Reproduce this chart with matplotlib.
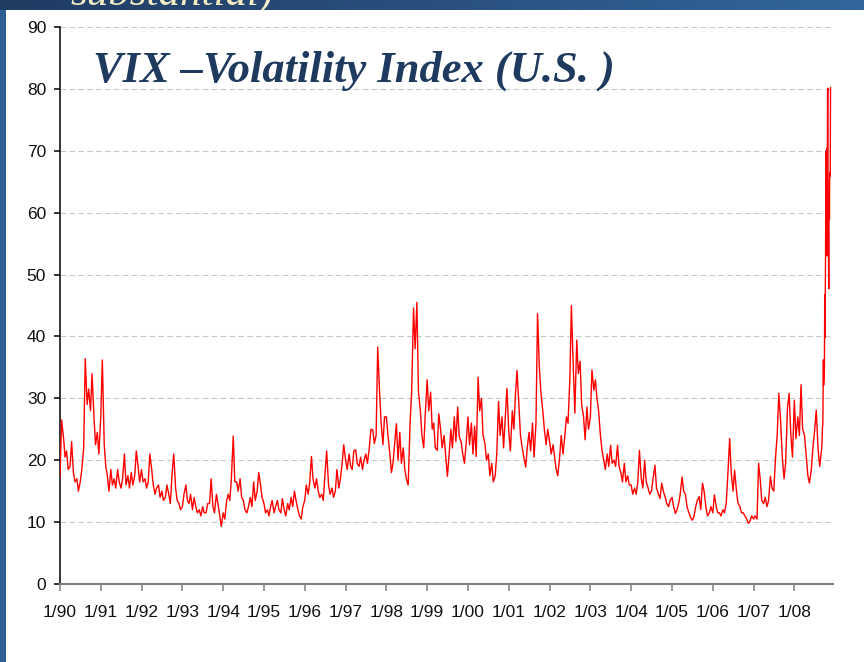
import numpy as np
import pandas as pd
import matplotlib
matplotlib.use('Agg')
import matplotlib.pyplot as plt
from matplotlib.colors import LinearSegmentedColormap
from matplotlib.patches import Rectangle

# VIX, two readings per month (1st / 15th)
vix_1990 = [17.2, 26.5, 23.8, 20.5, 21.5, 18.5, 19.0, 23.0, 18.0, 16.5, 17.0, 15.0,
            16.5, 18.5, 22.0, 36.4, 29.0, 31.5, 28.0, 34.0, 27.0, 22.5, 24.5, 21.0]
vix_1991 = [27.0, 36.2, 22.5, 19.0, 17.5, 15.0, 18.5, 16.0, 17.0, 15.5, 18.5, 16.5,
            15.5, 17.0, 21.0, 16.0, 17.5, 15.5, 18.0, 16.0, 17.5, 21.5, 19.0, 16.5]
vix_1992 = [18.5, 16.5, 17.0, 15.5, 16.5, 21.0, 18.5, 16.0, 14.5, 15.5, 16.0, 14.0,
            15.0, 13.5, 14.0, 16.0, 14.5, 13.0, 18.0, 21.0, 15.5, 13.5, 13.0, 12.0]
vix_1993 = [12.5, 14.5, 16.0, 13.5, 13.0, 14.5, 12.0, 14.0, 12.5, 11.5, 12.0, 11.0,
            12.5, 11.5, 11.5, 13.0, 13.0, 17.0, 12.5, 11.5, 14.5, 13.0, 11.0, 9.3]
vix_1994 = [11.5, 10.5, 13.5, 14.5, 13.5, 17.0, 23.9, 16.5, 16.5, 15.0, 17.0, 14.0,
            13.5, 12.0, 11.5, 12.5, 14.0, 12.5, 16.5, 13.5, 15.0, 18.0, 16.0, 14.0]
vix_1995 = [13.0, 11.5, 12.0, 11.0, 12.5, 13.5, 11.5, 12.5, 13.5, 12.0, 11.5, 13.8,
            12.0, 11.0, 13.0, 12.0, 14.0, 12.5, 15.0, 13.5, 12.0, 11.0, 10.5, 12.5]
vix_1996 = [13.5, 16.0, 14.5, 16.5, 20.6, 17.0, 15.5, 17.0, 15.0, 14.0, 14.5, 13.5,
            18.0, 21.5, 16.0, 14.5, 15.5, 14.0, 15.0, 18.5, 15.5, 17.0, 19.5, 22.5]
vix_1997 = [20.0, 18.5, 21.0, 19.0, 18.5, 21.5, 21.7, 19.5, 19.0, 20.5, 18.5, 20.0,
            21.0, 19.5, 22.0, 25.0, 24.9, 22.7, 24.0, 38.3, 31.0, 26.0, 22.5, 27.0]
vix_1998 = [27.0, 24.0, 21.0, 18.0, 19.5, 22.5, 25.9, 20.0, 24.5, 19.5, 22.0, 18.5,
            16.8, 16.0, 26.0, 31.0, 44.6, 38.0, 45.5, 31.0, 28.0, 24.0, 22.0, 27.5]
vix_1999 = [33.0, 28.0, 31.0, 25.0, 26.0, 22.0, 21.6, 27.5, 25.0, 22.0, 24.0, 21.0,
            17.4, 20.5, 25.0, 22.0, 27.0, 23.0, 28.6, 23.8, 23.0, 21.0, 19.5, 22.5]
vix_2000 = [27.0, 22.5, 26.0, 21.0, 25.5, 20.6, 33.4, 28.0, 30.0, 24.0, 22.7, 20.0,
            21.0, 17.5, 19.5, 16.5, 17.5, 21.0, 29.5, 24.0, 27.0, 22.0, 27.0, 31.6]
vix_2001 = [24.5, 21.5, 28.0, 25.0, 30.5, 34.5, 29.0, 24.0, 22.0, 20.5, 18.9, 22.0,
            24.5, 21.5, 26.0, 20.5, 26.0, 43.7, 35.0, 31.0, 28.0, 25.0, 22.5, 25.0]
vix_2002 = [23.0, 21.0, 22.5, 20.5, 18.5, 17.5, 20.5, 24.0, 21.0, 23.5, 27.0, 26.0,
            33.0, 45.0, 35.0, 27.6, 39.4, 34.0, 36.0, 29.0, 27.0, 23.3, 28.6, 25.0]
vix_2003 = [27.0, 34.6, 31.3, 33.0, 30.0, 28.1, 24.0, 21.6, 20.0, 18.5, 21.0, 19.0,
            22.4, 19.5, 20.0, 19.0, 22.4, 19.0, 18.0, 16.5, 19.5, 16.5, 17.5, 16.0]
vix_2004 = [16.0, 14.5, 15.5, 14.5, 16.5, 21.6, 17.0, 15.5, 20.0, 16.5, 15.5, 14.5,
            15.0, 17.0, 19.2, 15.5, 14.5, 13.8, 16.3, 15.0, 14.0, 13.0, 12.5, 13.5]
vix_2005 = [14.0, 12.5, 11.4, 12.0, 13.0, 14.5, 17.3, 15.0, 14.5, 12.5, 11.5, 10.8,
            10.3, 10.8, 12.5, 13.5, 14.1, 12.0, 16.3, 15.0, 12.3, 11.0, 11.5, 12.5]
vix_2006 = [11.5, 14.4, 12.5, 11.5, 11.5, 11.0, 12.0, 11.5, 13.0, 17.5, 23.5, 18.0,
            15.0, 18.4, 15.0, 13.0, 12.5, 11.5, 11.5, 11.0, 10.5, 9.8, 10.2, 11.0]
vix_2007 = [10.5, 11.0, 10.5, 19.5, 17.0, 13.5, 13.0, 14.0, 12.5, 13.5, 17.4, 15.5,
            15.0, 20.0, 24.3, 30.8, 26.0, 20.5, 17.0, 19.6, 28.6, 30.8, 24.0, 20.5]
vix_2008 = [29.7, 23.5, 27.0, 24.0, 32.2, 25.0, 24.0, 21.0, 17.5, 16.3, 18.5, 22.0,
            24.9, 28.1, 21.6, 19.0]

# autumn 2008 in more detail
crash_dates = ['2008-09-02', '2008-09-05', '2008-09-09', '2008-09-12', '2008-09-15',
               '2008-09-17', '2008-09-19', '2008-09-22', '2008-09-26', '2008-09-29',
               '2008-10-01', '2008-10-03', '2008-10-06', '2008-10-09', '2008-10-10',
               '2008-10-13', '2008-10-15', '2008-10-17', '2008-10-20', '2008-10-22',
               '2008-10-24', '2008-10-27', '2008-10-28', '2008-10-31', '2008-11-04',
               '2008-11-06', '2008-11-10', '2008-11-12', '2008-11-14', '2008-11-17',
               '2008-11-19', '2008-11-20']
crash_vix = [22.0, 23.1, 25.5, 25.7, 31.7, 36.2, 32.1, 33.1, 34.7, 46.7,
             39.8, 45.1, 52.1, 63.9, 70.0, 55.0, 69.3, 70.3, 53.0, 69.7,
             79.1, 80.1, 67.0, 59.9, 47.7, 63.7, 58.9, 66.5, 66.3, 65.9,
             74.3, 80.2]

years = list(range(1990, 2009))
tick_labels = ['1/90', '1/91', '1/92', '1/93', '1/94', '1/95', '1/96', '1/97', '1/98',
               '1/99', '1/00', '1/01', '1/02', '1/03', '1/04', '1/05', '1/06', '1/07',
               '1/08']
y_ticks = [0, 10, 20, 30, 40, 50, 60, 70, 80, 90]

semi = (vix_1990 + vix_1991 + vix_1992 + vix_1993 + vix_1994 + vix_1995 + vix_1996 +
        vix_1997 + vix_1998 + vix_1999 + vix_2000 + vix_2001 + vix_2002 + vix_2003 +
        vix_2004 + vix_2005 + vix_2006 + vix_2007 + vix_2008)
semi_dates = pd.date_range('1990-01-01', periods=len(semi), freq='SMS')
dates = list(semi_dates) + list(pd.to_datetime(crash_dates))
values = semi + crash_vix

W, H = 864, 662
fig = plt.figure(figsize=(W / 100, H / 100), dpi=100)
fig.patch.set_facecolor('white')

ax = fig.add_axes([60 / W, 1 - 584 / H, (833 - 60) / W, (584 - 27) / H])
ax.plot(dates, values, color='#ff0000', lw=1.0, zorder=3)

ax.set_ylim(0, 90)
ax.set_xlim(pd.Timestamp('1990-01-01'), pd.Timestamp('2008-12-12'))
ax.set_yticks(y_ticks)
ax.set_xticks(pd.to_datetime([f'{y}-01-01' for y in years]))
ax.set_xticklabels(tick_labels)

# dashed grid, stops a little short of the axis end
grid_end = pd.Timestamp('2008-11-20')
for v in y_ticks[1:]:
    ax.plot([pd.Timestamp('1990-01-01'), grid_end], [v, v], color='#c8c8c8',
            lw=0.8, dashes=(5, 3), zorder=1)

for s in ['top', 'right']:
    ax.spines[s].set_visible(False)
ax.spines['left'].set_color('black')
ax.spines['left'].set_linewidth(1.1)
ax.spines['bottom'].set_color('#808080')
ax.spines['bottom'].set_linewidth(1.5)

tick_font = ['Liberation Sans Narrow', 'Liberation Sans', 'DejaVu Sans']
ax.tick_params(axis='y', length=4, width=1.1, color='black', pad=6)
ax.tick_params(axis='x', length=5, width=1.1, color='#808080', pad=10)
for lab in ax.get_xticklabels() + ax.get_yticklabels():
    lab.set_family(tick_font)
    lab.set_fontsize(12.5)
    lab.set_color('#111111')

fig.text(93 / W, 1 - 82 / H, 'VIX \u2013Volatility Index (U.S. )',
         family='Liberation Serif', fontweight='bold', fontstyle='italic',
         fontsize=32, color='#1f3a5f', va='baseline')

# slide frame: gradient band on top, strip on the left
band = fig.add_axes([0, 1 - 10 / H, 1, 10 / H])
band_cmap = LinearSegmentedColormap.from_list('band', ['#1f3c62', '#33669c'])
band.imshow(np.linspace(0, 1, 256)[None, :], cmap=band_cmap, aspect='auto',
            extent=[0, 1, 0, 1])
band.axis('off')
t = band.text(70 / W, 0.5, 'substantial)', transform=band.transAxes,
              family='Liberation Serif', fontstyle='italic', fontsize=31,
              color='#f3ecc6', va='baseline')
t.set_clip_box(band.bbox)
t.set_clip_on(True)

fig.add_artist(Rectangle((0, 0), 6 / W, 1 - 10 / H, transform=fig.transFigure,
                         color='#2e5e93', lw=0))

fig.savefig('out.png', dpi=100)
